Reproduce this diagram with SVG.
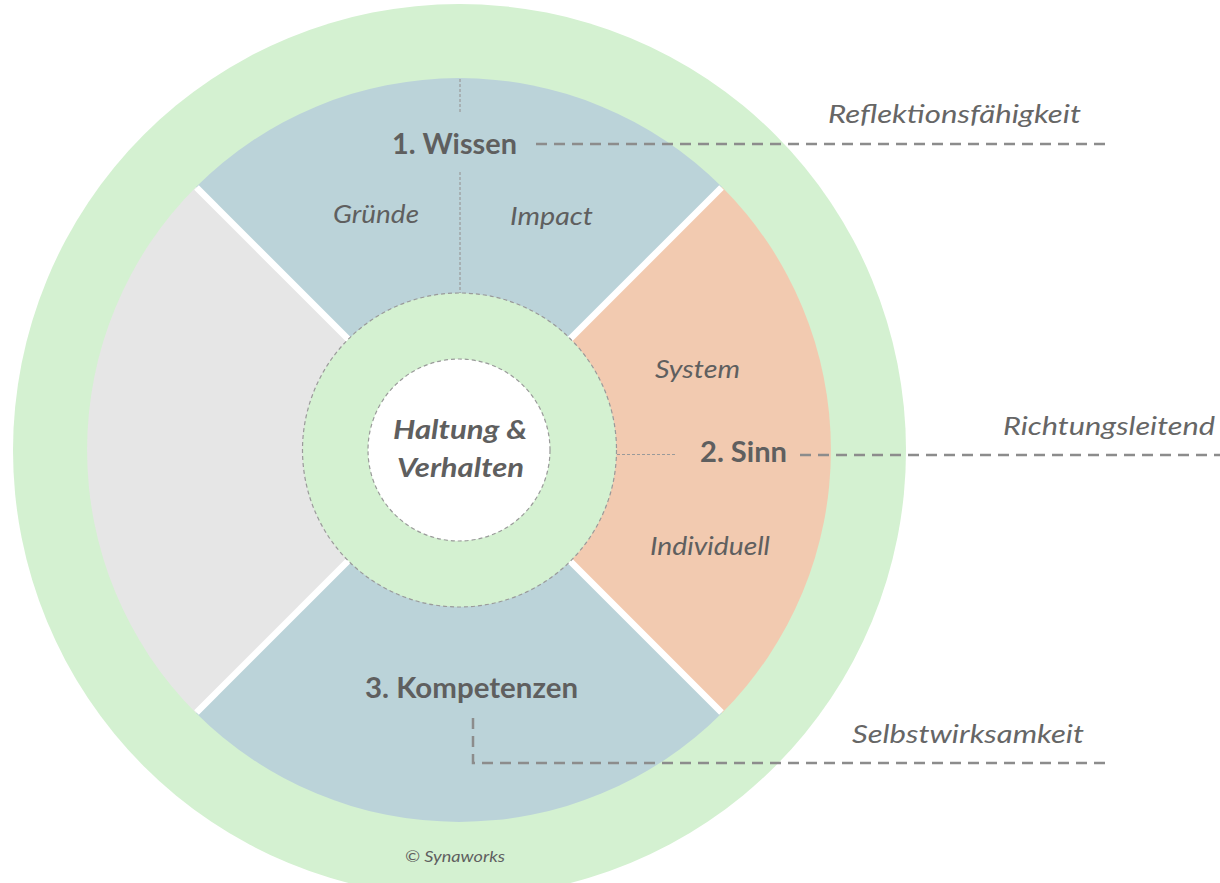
<svg xmlns="http://www.w3.org/2000/svg" width="1220" height="883" viewBox="0 0 1220 883">
<style>
.t{font-family:Lato,"Open Sans","Liberation Sans",sans-serif;fill:#5f5f5f}
.b{font-weight:700;font-size:28px}
.i{font-style:italic;font-size:25px}
.bi{font-style:italic;font-weight:700;font-size:27px}
.ext{font-style:italic;font-size:25px;fill:#666}
.thin{stroke:#9a9a9a;stroke-width:1.2;stroke-dasharray:3 2;fill:none}
.thick{stroke:#8c8c8c;stroke-width:2.5;stroke-dasharray:11 7;fill:none}
.sep{stroke:#fff;stroke-width:6.5}
.ring{stroke:#9a9a9a;stroke-width:1.2;stroke-dasharray:4 3}
</style>
<rect width="1220" height="883" fill="#fff"/>
<g id="outer-ring"><circle cx="459.5" cy="450.5" r="446.5" fill="#d4f1d1"/></g>
<g id="segment-wissen">
<path d="M459,450 L196,187 A372,372 0 0,1 722,187 Z" fill="#bbd3d9"/>
</g>
<g id="segment-sinn">
<path d="M459,450 L722,187 A372,372 0 0,1 722,713 Z" fill="#f2cab0"/>
</g>
<g id="segment-kompetenzen">
<path d="M459,450 L722,713 A372,372 0 0,1 196,713 Z" fill="#bbd3d9"/>
</g>
<g id="segment-empty">
<path d="M459,450 L196,713 A372,372 0 0,1 196,187 Z" fill="#e6e6e6"/>
</g>
<g id="separators">
<line class="sep" x1="459" y1="450" x2="196.5" y2="187.5"/>
<line class="sep" x1="459" y1="450" x2="721.5" y2="187.5"/>
<line class="sep" x1="459" y1="450" x2="721.5" y2="712.5"/>
<line class="sep" x1="459" y1="450" x2="196.5" y2="712.5"/>
</g>
<g id="inner-ring"><circle class="ring" cx="459.5" cy="450" r="157" fill="#d4f1d1"/></g>
<g id="core">
<circle class="ring" cx="459" cy="450" r="91" fill="#fff"/>
<text class="t bi" x="393" y="439" textLength="134" lengthAdjust="spacingAndGlyphs">Haltung &amp;</text>
<text class="t bi" x="397" y="477" textLength="127" lengthAdjust="spacingAndGlyphs">Verhalten</text>
</g>
<g id="connectors">
<line class="thin" x1="460" y1="79" x2="460" y2="113"/>
<line class="thin" x1="460" y1="172" x2="460" y2="293"/>
<line class="thin" x1="617" y1="454.5" x2="675" y2="454.5"/>
<line class="thick" x1="536" y1="144" x2="1108" y2="144"/>
<line class="thick" x1="800" y1="455" x2="1220" y2="455"/>
<polyline class="thick" points="473,718 473,763 1110,763"/>
</g>
<g id="labels-wissen">
<text class="t b" x="392" y="154" textLength="125" lengthAdjust="spacingAndGlyphs">1. Wissen</text>
<text class="t i" x="333" y="223" textLength="86" lengthAdjust="spacingAndGlyphs">Gründe</text>
<text class="t i" x="510" y="225" textLength="83" lengthAdjust="spacingAndGlyphs">Impact</text>
</g>
<g id="labels-sinn">
<text class="t i" x="655" y="378" textLength="85" lengthAdjust="spacingAndGlyphs">System</text>
<text class="t b" x="700" y="462" textLength="87" lengthAdjust="spacingAndGlyphs">2. Sinn</text>
<text class="t i" x="650" y="555" textLength="120" lengthAdjust="spacingAndGlyphs">Individuell</text>
</g>
<g id="labels-kompetenzen">
<text class="t b" x="365" y="698" textLength="213" lengthAdjust="spacingAndGlyphs">3. Kompetenzen</text>
</g>
<g id="side-labels">
<text class="t ext" x="828" y="123" textLength="253" lengthAdjust="spacingAndGlyphs">Reflektionsfähigkeit</text>
<text class="t ext" x="1003" y="435" textLength="212" lengthAdjust="spacingAndGlyphs">Richtungsleitend</text>
<text class="t ext" x="852" y="743" textLength="232" lengthAdjust="spacingAndGlyphs">Selbstwirksamkeit</text>
</g>
<g id="copyright">
<text class="t" x="405" y="862" font-style="italic" font-size="15" fill="#666" textLength="100" lengthAdjust="spacingAndGlyphs">© Synaworks</text>
</g>
</svg>
